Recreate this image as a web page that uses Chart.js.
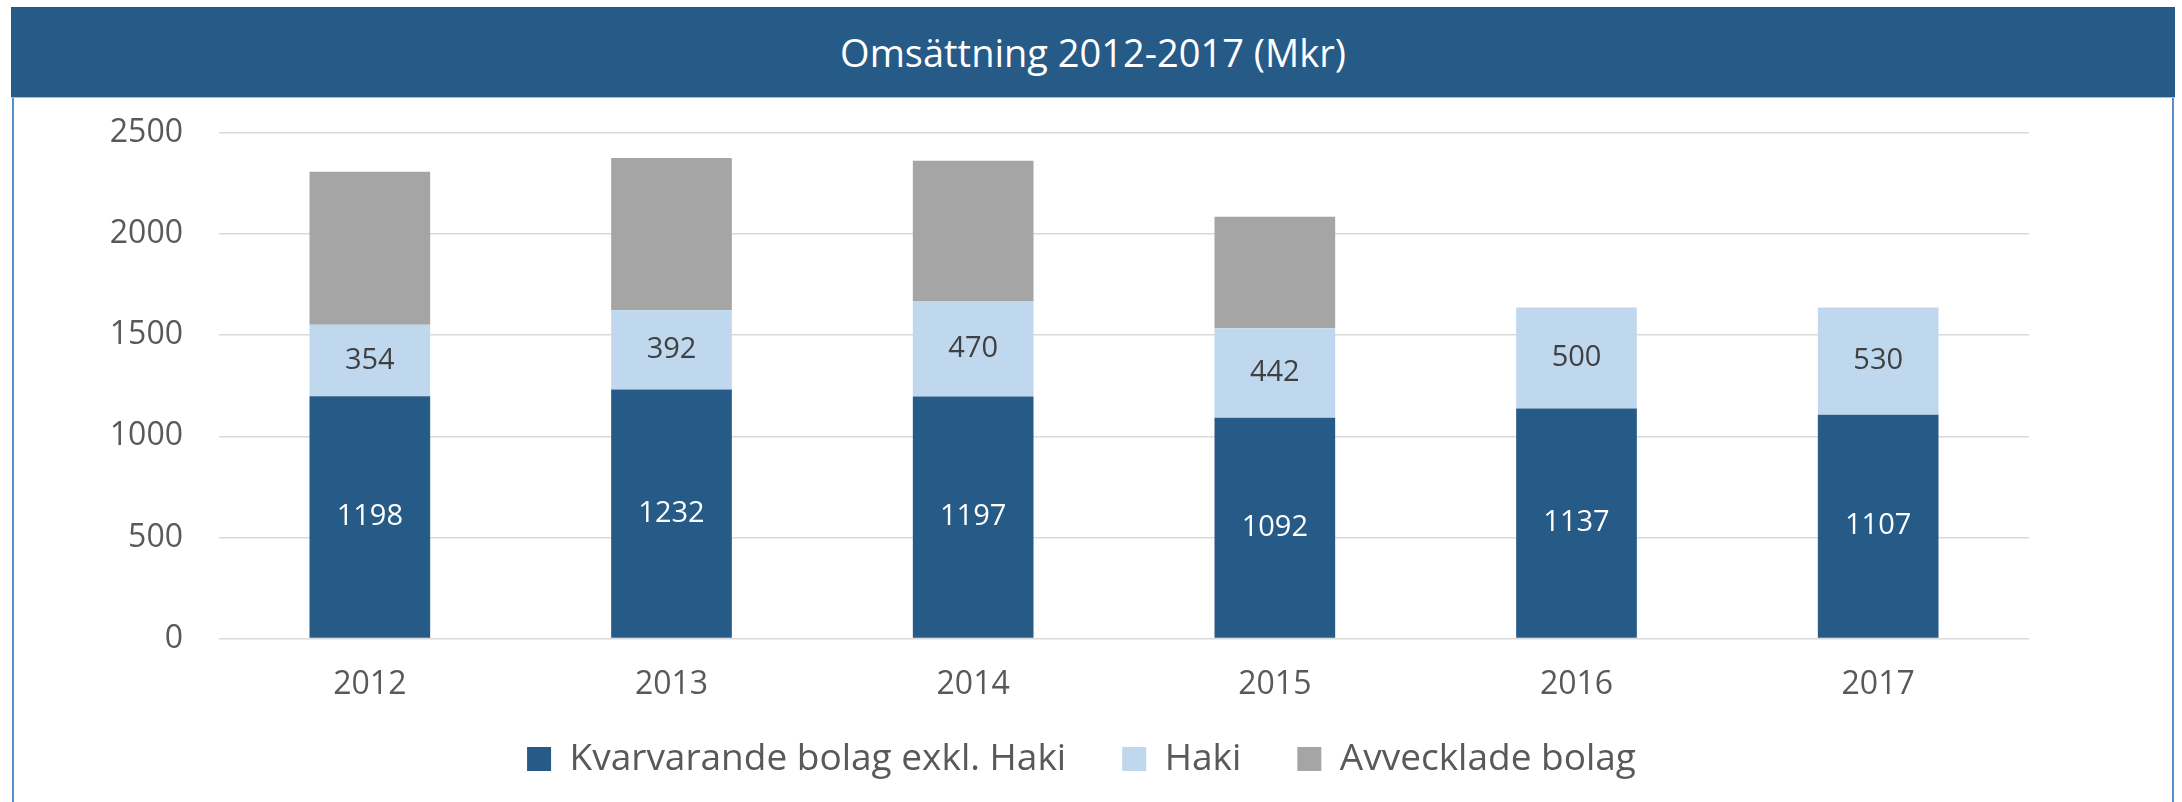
<!DOCTYPE html>
<html>
<head>
<meta charset="utf-8">
<script src="https://cdn.jsdelivr.net/npm/chart.js@4"></script>
<style>
  html, body { margin: 0; padding: 0; background: #ffffff; }
  #wrap { position: relative; width: 2182px; height: 802px; overflow: hidden; }
  #frame { position: absolute; left: 12px; top: 7px; width: 2162px; height: 820px;
           border: 2px solid #5A8FCB; box-sizing: border-box; }
  #titlebar { position: absolute; left: 11px; top: 7px; width: 2164px; height: 90px;
              background: #265A87; color: #ffffff; font-family: "Open Sans", sans-serif;
              font-size: 38px; line-height: 90px; text-align: center;
              border-bottom: 1px solid #9DC0E4; }
  canvas { position: absolute; left: 0; top: 0; }
</style>
</head>
<body>
<div id="wrap">
  <div id="frame"></div>
  <div id="titlebar">Omsättning 2012-2017 (Mkr)</div>
  <canvas id="c" width="2182" height="802"></canvas>
</div>
<script>
const categories = ['2012', '2013', '2014', '2015', '2016', '2017'];
const kvarvarande = [1198, 1232, 1197, 1092, 1137, 1107];
const haki = [354, 392, 470, 442, 500, 530];
const avvecklade = [756, 752, 696, 552, null, null];
const seriesNames = ['Kvarvarande bolag exkl. Haki', 'Haki', 'Avvecklade bolag'];
const yTicks = [0, 500, 1000, 1500, 2000, 2500];

const FONT = '"Open Sans", sans-serif';

const valueLabels = {
  id: 'valueLabels',
  afterDatasetsDraw(chart) {
    const ctx = chart.ctx;
    ctx.save();
    ctx.font = '29px ' + FONT;
    ctx.textAlign = 'center';
    ctx.textBaseline = 'middle';
    chart.data.datasets.forEach((ds, di) => {
      if (!ds.showLabels) return;
      const meta = chart.getDatasetMeta(di);
      meta.data.forEach((bar, i) => {
        const v = ds.data[i];
        if (v === null || v === undefined) return;
        ctx.fillStyle = ds.labelColor;
        ctx.fillText(String(v), bar.x, (bar.y + bar.base) / 2);
      });
    });
    ctx.restore();
  }
};

// moves the legend row up so it sits where the reference places it
const legendShift = {
  id: 'legendShift',
  afterUpdate(chart) {
    const lg = chart.legend;
    if (lg) { lg.top -= 20; lg.bottom = chart.height; }
  }
};

new Chart(document.getElementById('c'), {
  type: 'bar',
  data: {
    labels: categories,
    datasets: [
      { label: seriesNames[0], data: kvarvarande, backgroundColor: '#265A87', showLabels: true, labelColor: '#ffffff' },
      { label: seriesNames[1], data: haki, backgroundColor: '#BFD8EE', showLabels: true, labelColor: '#404040' },
      { label: seriesNames[2], data: avvecklade, backgroundColor: '#A5A5A5', showLabels: false }
    ]
  },
  options: {
    responsive: false,
    animation: false,
    devicePixelRatio: 1,
    datasets: { bar: { barPercentage: 0.4, categoryPercentage: 1.0 } },
    layout: { padding: { top: 133, left: 100, right: 119, bottom: 17.5 } },
    scales: {
      x: {
        stacked: true,
        grid: { display: false, drawTicks: false },
        border: { display: false },
        ticks: { color: '#595959', font: { family: FONT, size: 32 }, padding: 27 },
        afterFit(scale) { scale.height = 66; }
      },
      y: {
        stacked: true,
        min: 0, max: 2500,
        afterBuildTicks(scale) { scale.ticks = yTicks.map(v => ({ value: v })); },
        grid: { color: '#D9D9D9', lineWidth: 1.5, drawTicks: false },
        border: { display: false },
        ticks: { color: '#595959', font: { family: FONT, size: 32 }, padding: 36,
                 callback: (v) => String(v) },
        afterFit(scale) { scale.width = 119; }
      },
      yRightSpace: {
        position: 'right',
        display: true,
        grid: { display: false, drawTicks: false },
        border: { display: false },
        ticks: { display: false },
        afterFit(scale) { scale.width = 34; }
      }
    },
    plugins: {
      title: { display: false },
      tooltip: { enabled: false },
      legend: {
        position: 'bottom',
        maxHeight: 80,
        labels: {
          color: '#595959',
          font: { family: FONT, size: 37 },
          boxWidth: 24, boxHeight: 24,
          padding: 56
        }
      }
    }
  },
  plugins: [valueLabels, legendShift]
});
</script>
</body>
</html>
